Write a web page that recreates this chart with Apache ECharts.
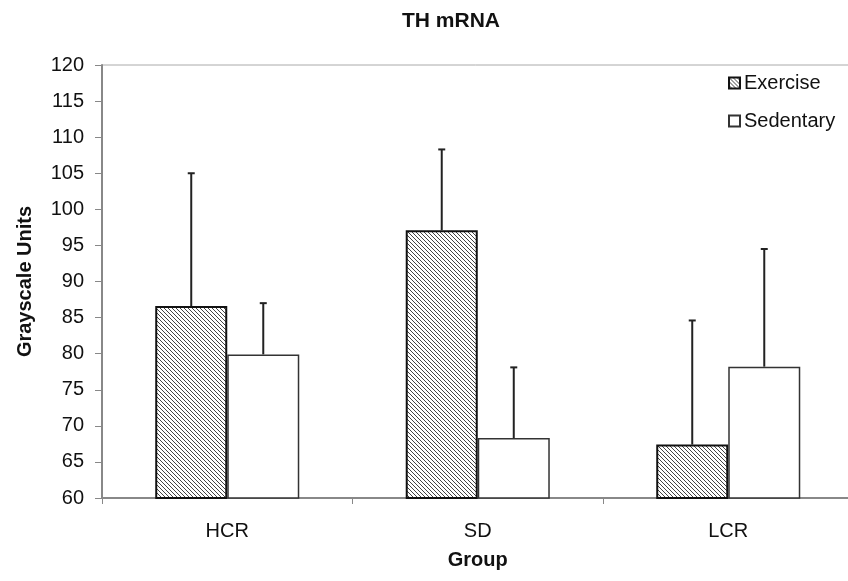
<!DOCTYPE html>
<html>
<head>
<meta charset="utf-8">
<script src="https://cdn.jsdelivr.net/npm/echarts@6/dist/echarts.min.js"></script>
<style>html,body{margin:0;padding:0;background:#fff}#c{width:848px;height:581px}</style>
</head>
<body>
<div id="c"></div>
<script>
var categories = ['HCR', 'SD', 'LCR'];
var exerciseValues = [86.6, 97.1, 67.4];
var exerciseErrors = [18.4, 11.2, 17.2];
var sedentaryValues = [79.9, 68.3, 78.2];
var sedentaryErrors = [7.1, 9.8, 16.3];
var yTicks = {min: 60, max: 120, interval: 5};

function hatch() {
  var c = document.createElement('canvas');
  c.width = 4; c.height = 4;
  var g = c.getContext('2d');
  g.fillStyle = '#fff';
  g.fillRect(0, 0, 4, 4);
  g.strokeStyle = '#444';
  g.lineWidth = 1;
  g.beginPath();
  g.moveTo(-1, -1); g.lineTo(5, 5);
  g.moveTo(-1, 3); g.lineTo(1, 5);
  g.moveTo(3, -1); g.lineTo(5, 1);
  g.stroke();
  return c;
}
var pattern = {image: hatch(), repeat: 'repeat'};
var gapFrac = 0.425;

function errRender(vals, errs, side) {
  return function (params, api) {
    var i = api.value(0);
    var v = vals[i], e = errs[i];
    var w = api.size([1, 0])[0] * (1 - gapFrac) / 2;
    var p0 = api.coord([i, v]);
    var p1 = api.coord([i, v + e]);
    var x = p0[0] + side * w / 2;
    var st = {stroke: '#222', lineWidth: 2};
    return {type: 'group', children: [
      {type: 'line', shape: {x1: x, y1: p0[1], x2: x, y2: p1[1]}, style: st},
      {type: 'line', shape: {x1: x - 3.5, y1: p1[1], x2: x + 3.5, y2: p1[1]}, style: st}
    ]};
  };
}

var font = 'Liberation Sans, Arial, sans-serif';
var chart = echarts.init(document.getElementById('c'), null, {renderer: 'canvas'});
chart.setOption({
  animation: false,
  backgroundColor: '#fff',
  title: {
    text: 'TH mRNA', left: 446, top: 6, textAlign: 'center',
    textStyle: {fontFamily: font, fontSize: 21, fontWeight: 'bold', color: '#111'}
  },
  legend: {
    orient: 'vertical', left: 723, top: 68, itemWidth: 11, itemHeight: 11, itemGap: 18,
    icon: 'rect',
    textStyle: {fontFamily: font, fontSize: 20, color: '#111', padding: [0, 0, 0, -1]},
    data: ['Exercise', 'Sedentary']
  },
  grid: {left: 102, width: 751.5, top: 65, height: 433, outerBoundsMode: 'none',
    show: true, borderColor: '#aaa', borderWidth: 1},
  xAxis: {
    type: 'category', data: categories,
    name: 'Group', nameLocation: 'middle', nameGap: 52,
    nameTextStyle: {fontFamily: font, fontSize: 20, fontWeight: 'bold', color: '#111'},
    axisLine: {lineStyle: {color: '#888', width: 2}},
    axisTick: {show: true, length: 6, lineStyle: {color: '#888', width: 1}},
    axisLabel: {fontFamily: font, fontSize: 20, color: '#111', margin: 23}
  },
  yAxis: {
    type: 'value', min: yTicks.min, max: yTicks.max, interval: yTicks.interval,
    name: 'Grayscale Units', nameLocation: 'middle', nameGap: 67,
    nameTextStyle: {fontFamily: font, fontSize: 20, fontWeight: 'bold', color: '#111'},
    axisLine: {show: true, lineStyle: {color: '#888', width: 2}},
    axisTick: {show: true, length: 7, lineStyle: {color: '#888', width: 1}},
    splitLine: {show: false},
    axisLabel: {fontFamily: font, fontSize: 20, color: '#111', margin: 18}
  },
  series: [
    {name: 'Exercise', type: 'bar', data: exerciseValues, barGap: '0%', barCategoryGap: (gapFrac * 100) + '%',
      itemStyle: {color: pattern, borderColor: '#111', borderWidth: 2}},
    {name: 'Sedentary', type: 'bar', data: sedentaryValues, barGap: '0%', barCategoryGap: (gapFrac * 100) + '%',
      itemStyle: {color: '#fff', borderColor: '#333', borderWidth: 1.5}},
    {type: 'custom', renderItem: errRender(exerciseValues, exerciseErrors, -1), data: [0, 1, 2], z: 5, silent: true},
    {type: 'custom', renderItem: errRender(sedentaryValues, sedentaryErrors, 1), data: [0, 1, 2], z: 5, silent: true}
  ]
});
</script>
</body>
</html>
